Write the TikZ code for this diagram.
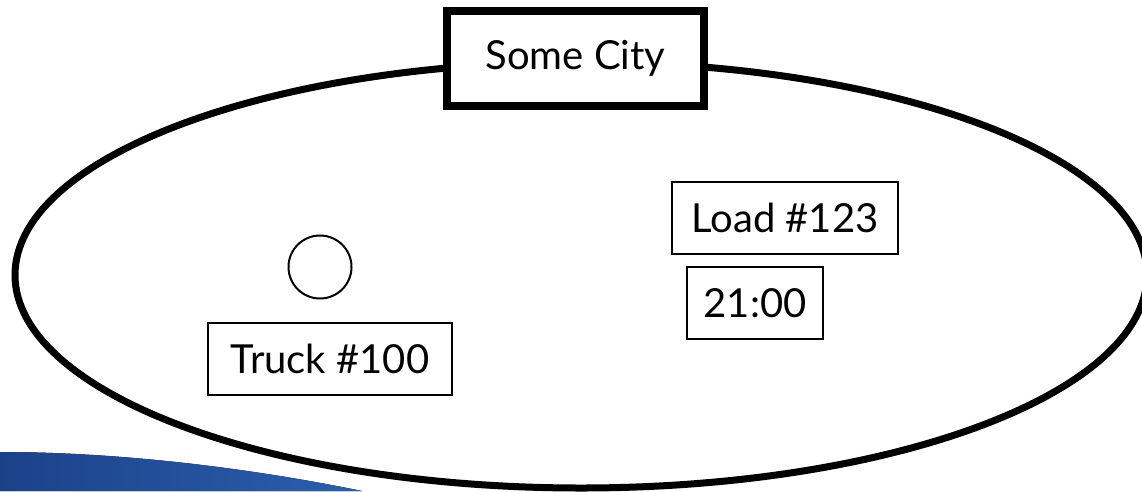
\documentclass[tikz,border=0pt]{standalone}
\usepackage{fontspec}
\setmainfont{Lato}
\definecolor{swooshdark}{HTML}{1B4289}
\definecolor{swooshlight}{HTML}{2C5EAE}
\tikzset{
  label box/.style={draw=black, line width=1.5pt, fill=white, inner sep=0pt,
    font=\fontsize{40}{44}\selectfont},
  title box/.style={draw=black, line width=8pt, fill=white, inner sep=0pt,
    font=\fontsize{40}{44}\selectfont},
  city/.style={draw=black, line width=7pt},
  marker/.style={draw=black, line width=2pt, circle, inner sep=0pt, minimum size=63pt}
}
\begin{document}
\begin{tikzpicture}[x=1pt,y=-1pt]
  \useasboundingbox (0,0) rectangle (1142,491);
  % blue swoosh in the lower left corner
  \fill[left color=swooshdark, right color=swooshlight]
    (0,452) .. controls (120,452) and (250,468) .. (362,491) -- (0,491) -- cycle;
  % city boundary
  \draw[city] (581,275) ellipse [x radius=566, y radius=213];
  % city name
  \node[title box, minimum width=257pt, minimum height=95pt] (cityname) at (575.5,58.5) {Some City};
  % truck and its position marker
  \node[marker] (truckpos) at (320,267) {};
  \node[label box, minimum width=244pt, minimum height=72pt] (truck) at (330,359) {Truck \#100};
  % load and its time
  \node[label box, minimum width=226pt, minimum height=72pt] (load) at (785,218) {Load \#123};
  \node[label box, minimum width=136pt, minimum height=72pt] (time) at (755,303) {21:00};
\end{tikzpicture}
\end{document}
